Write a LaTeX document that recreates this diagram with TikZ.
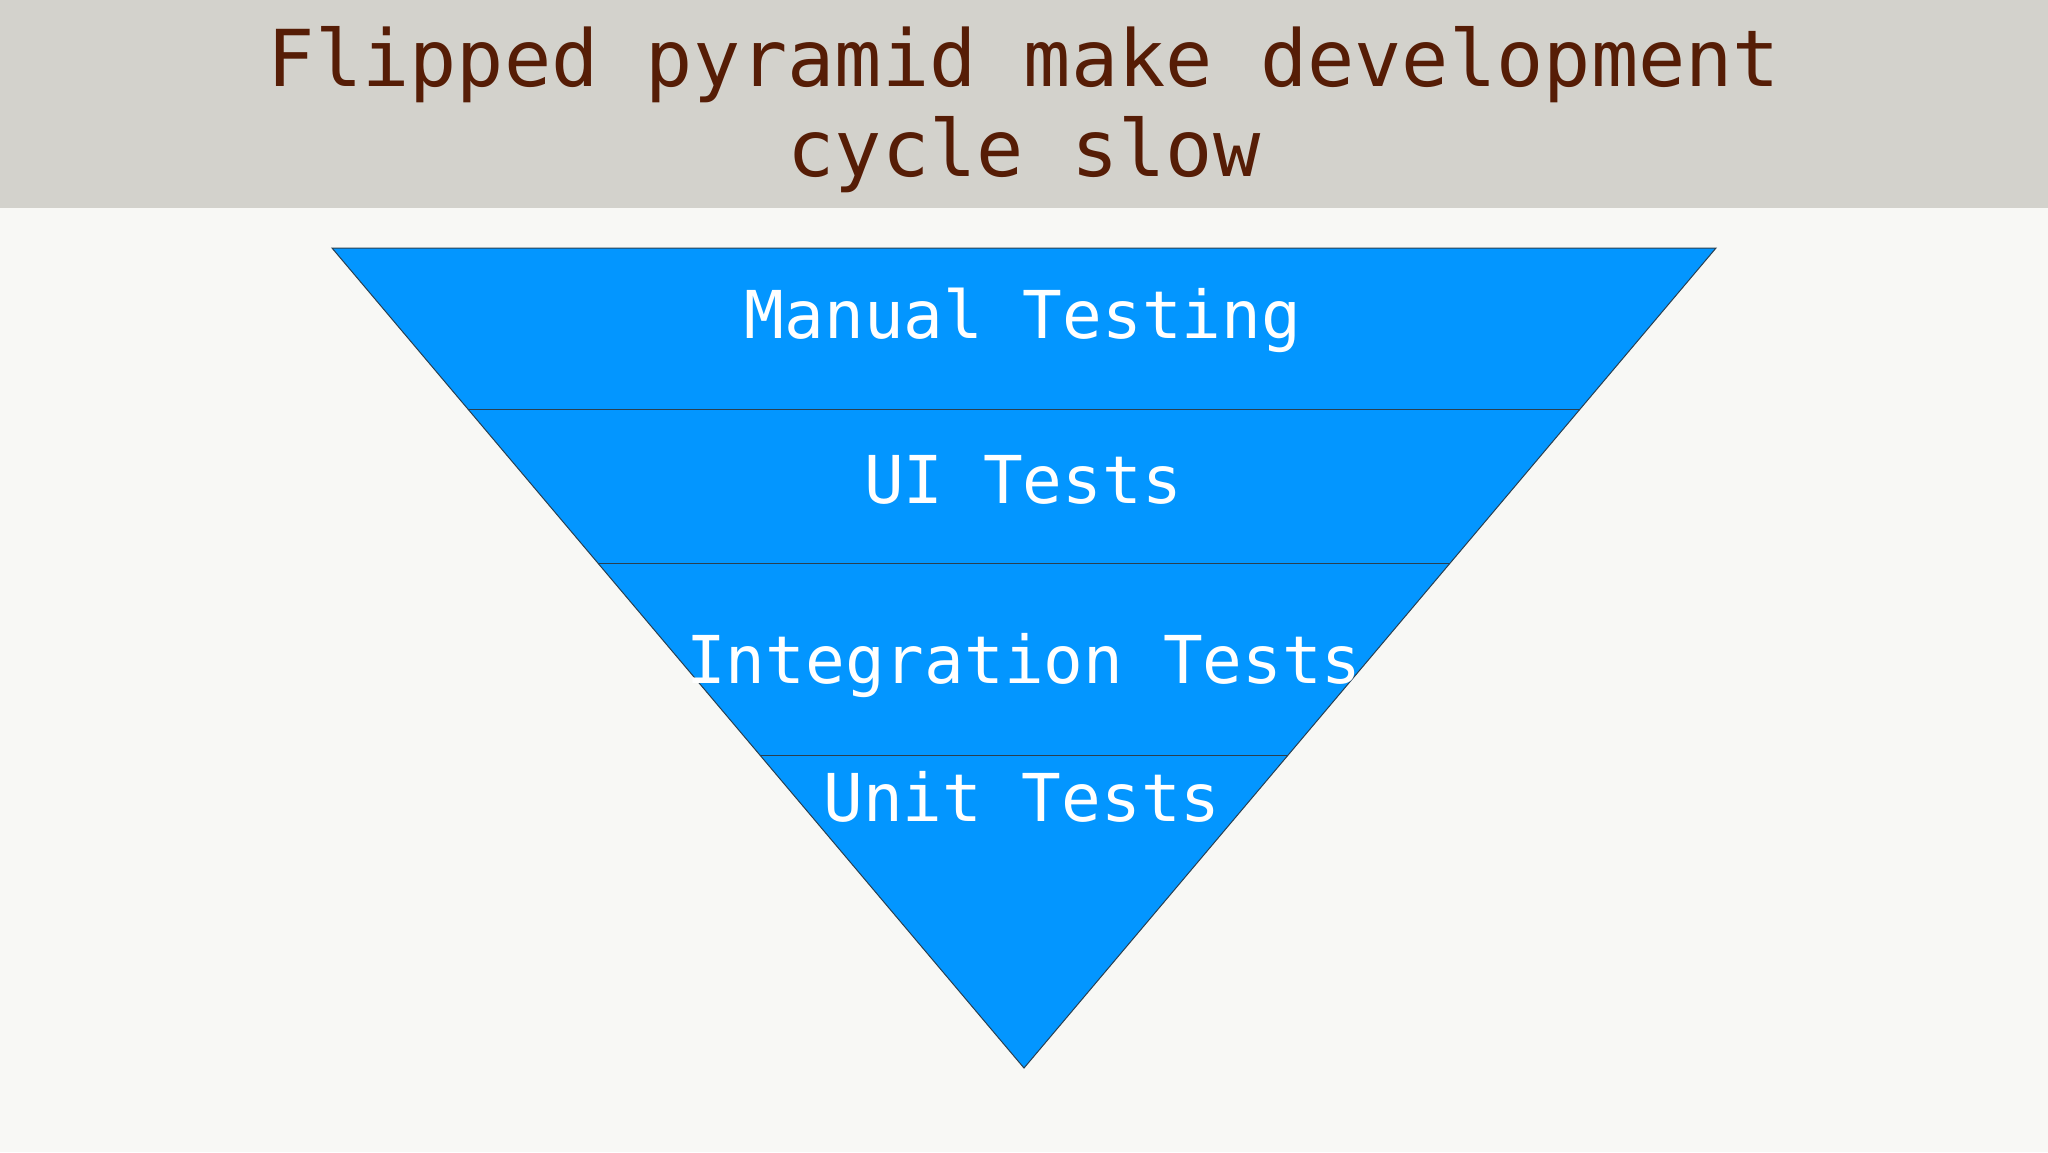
\documentclass[tikz,border=0pt]{standalone}
\usepackage{fontspec}
\setmonofont{DejaVu Sans Mono}
\definecolor{pagebg}{HTML}{F8F8F5}
\definecolor{bandbg}{HTML}{D3D2CC}
\definecolor{titlecol}{HTML}{561D06}
\definecolor{pyrblue}{HTML}{0396FF}
\definecolor{edgecol}{HTML}{2A4050}
\begin{document}
\begin{tikzpicture}[x=1pt,y=-1pt,
  titletext/.style={anchor=base,inner sep=0pt,text=titlecol,font=\ttfamily\fontsize{78.5}{90}\selectfont},
  layertext/.style={anchor=base,inner sep=0pt,text=white,font=\ttfamily\fontsize{66}{78}\selectfont},
  divider/.style={draw=edgecol,line width=0.9pt}]
\useasboundingbox (0,0) rectangle (2048,1152);
\fill[pagebg] (0,0) rectangle (2048,1152);
\fill[bandbg] (0,0) rectangle (2048,208);
% pyramid
\coordinate (tl) at (332,248);
\coordinate (tr) at (1716,248);
\coordinate (apex) at (1024,1068);
\filldraw[fill=pyrblue,draw=edgecol,line width=1pt,line join=miter] (tl) -- (tr) -- (apex) -- cycle;
% dividers
\coordinate (d1l) at (467.9,409);
\coordinate (d1r) at (1580.1,409);
\coordinate (d2l) at (597.8,563);
\coordinate (d2r) at (1450.2,563);
\coordinate (d3l) at (759.9,755);
\coordinate (d3r) at (1288.1,755);
\draw[divider] (d1l) -- (d1r);
\draw[divider] (d2l) -- (d2r);
\draw[divider] (d3l) -- (d3r);
% title
\node[titletext] (title1) at (1024,86) {Flipped pyramid make development};
\node[titletext] (title2) at (1024,176) {cycle slow};
% labels
\node[layertext] (manual) at (1023,338) {Manual Testing};
\node[layertext] (ui) at (1023,503) {UI Tests};
\node[layertext] (integration) at (1024,683) {Integration Tests};
\node[layertext] (unit) at (1022,821) {Unit Tests};
\end{tikzpicture}
\end{document}
